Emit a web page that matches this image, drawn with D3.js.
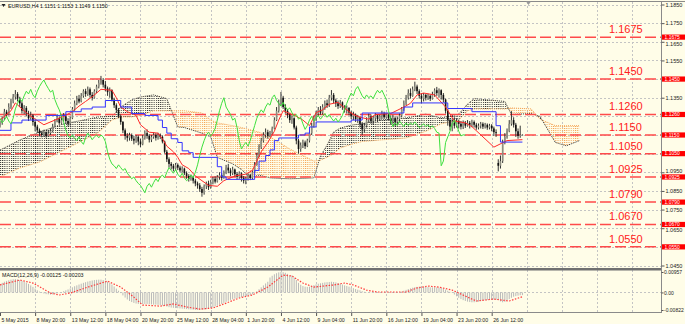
<!DOCTYPE html>
<html>
<head>
<meta charset="utf-8">
<script src="https://cdn.jsdelivr.net/npm/d3@7"></script>
<style>
  body { margin: 0; background: #fffde8; }
  svg { display: block; font-family: "Liberation Sans", Arial, sans-serif; }
</style>
</head>
<body>
<div id="chart"></div>
<script>
// EURUSD H4 candles: [open, high, low, close], one per bar
const ohlc = [
  [1.1200,1.1225,1.1190,1.1215],[1.1215,1.1250,1.1205,1.1240],[1.1240,1.1290,1.1230,1.1275],[1.1275,1.1285,1.1245,1.1260],
  [1.1260,1.1320,1.1255,1.1300],[1.1300,1.1345,1.1290,1.1330],[1.1330,1.1370,1.1320,1.1355],[1.1355,1.1391,1.1340,1.1370],
  [1.1370,1.1380,1.1330,1.1345],[1.1345,1.1355,1.1300,1.1320],[1.1320,1.1330,1.1265,1.1280],[1.1280,1.1310,1.1262,1.1295],
  [1.1295,1.1305,1.1250,1.1265],[1.1265,1.1280,1.1225,1.1240],[1.1240,1.1275,1.1232,1.1255],[1.1255,1.1262,1.1200,1.1220],
  [1.1220,1.1230,1.1170,1.1195],[1.1195,1.1205,1.1160,1.1175],[1.1175,1.1185,1.1145,1.1160],[1.1160,1.1172,1.1138,1.1150],
  [1.1150,1.1178,1.1140,1.1165],[1.1165,1.1170,1.1135,1.1145],[1.1145,1.1175,1.1140,1.1160],[1.1160,1.1185,1.1150,1.1172],
  [1.1172,1.1210,1.1165,1.1195],[1.1195,1.1235,1.1190,1.1225],[1.1225,1.1262,1.1218,1.1240],[1.1240,1.1250,1.1205,1.1215],
  [1.1215,1.1255,1.1210,1.1230],[1.1230,1.1268,1.1222,1.1250],[1.1250,1.1258,1.1210,1.1225],[1.1225,1.1240,1.1195,1.1210],
  [1.1210,1.1250,1.1200,1.1240],[1.1240,1.1300,1.1235,1.1290],[1.1290,1.1335,1.1280,1.1320],[1.1320,1.1360,1.1310,1.1345],
  [1.1345,1.1365,1.1320,1.1330],[1.1330,1.1375,1.1325,1.1360],[1.1360,1.1395,1.1350,1.1385],[1.1385,1.1398,1.1355,1.1370],
  [1.1370,1.1410,1.1360,1.1395],[1.1395,1.1405,1.1350,1.1365],[1.1365,1.1380,1.1335,1.1350],[1.1350,1.1395,1.1345,1.1385],
  [1.1385,1.1420,1.1375,1.1410],[1.1410,1.1445,1.1400,1.1430],[1.1430,1.1467,1.1420,1.1445],[1.1445,1.1455,1.1405,1.1420],
  [1.1420,1.1440,1.1385,1.1400],[1.1400,1.1410,1.1360,1.1380],[1.1380,1.1405,1.1350,1.1390],[1.1390,1.1395,1.1330,1.1340],
  [1.1340,1.1350,1.1295,1.1310],[1.1310,1.1320,1.1270,1.1285],[1.1285,1.1295,1.1240,1.1250],[1.1250,1.1260,1.1205,1.1220],
  [1.1220,1.1225,1.1160,1.1175],[1.1175,1.1185,1.1125,1.1145],[1.1145,1.1160,1.1115,1.1135],[1.1135,1.1162,1.1120,1.1150],
  [1.1150,1.1158,1.1118,1.1130],[1.1130,1.1145,1.1100,1.1120],[1.1120,1.1150,1.1108,1.1140],[1.1140,1.1148,1.1095,1.1115],
  [1.1115,1.1130,1.1085,1.1100],[1.1100,1.1150,1.1095,1.1135],[1.1135,1.1175,1.1125,1.1160],[1.1160,1.1180,1.1130,1.1145],
  [1.1145,1.1155,1.1110,1.1125],[1.1125,1.1150,1.1112,1.1140],[1.1140,1.1165,1.1130,1.1150],[1.1150,1.1160,1.1120,1.1135],
  [1.1135,1.1162,1.1125,1.1150],[1.1150,1.1158,1.1128,1.1140],[1.1140,1.1148,1.1105,1.1115],[1.1115,1.1120,1.1050,1.1060],
  [1.1060,1.1070,1.1005,1.1020],[1.1020,1.1030,1.0975,1.0995],[1.0995,1.1005,1.0965,1.0985],[1.0985,1.0995,1.0955,1.0970],
  [1.0970,1.1000,1.0960,1.0990],[1.0990,1.0998,1.0962,1.0975],[1.0975,1.0985,1.0950,1.0960],[1.0960,1.0982,1.0948,1.0970],
  [1.0970,1.0975,1.0935,1.0945],[1.0945,1.0955,1.0915,1.0930],[1.0930,1.0940,1.0900,1.0915],[1.0915,1.0938,1.0905,1.0925],
  [1.0925,1.0932,1.0890,1.0905],[1.0905,1.0915,1.0875,1.0890],[1.0890,1.0900,1.0862,1.0880],[1.0880,1.0892,1.0845,1.0860],
  [1.0860,1.0872,1.0819,1.0840],[1.0840,1.0885,1.0830,1.0875],[1.0875,1.0900,1.0860,1.0890],[1.0890,1.0905,1.0855,1.0870],
  [1.0870,1.0910,1.0862,1.0895],[1.0895,1.0925,1.0885,1.0915],[1.0915,1.0928,1.0890,1.0900],[1.0900,1.0935,1.0895,1.0925],
  [1.0925,1.0950,1.0910,1.0935],[1.0935,1.0945,1.0905,1.0920],[1.0920,1.0960,1.0915,1.0950],[1.0950,1.0990,1.0940,1.0975],
  [1.0975,1.0995,1.0945,1.0960],[1.0960,1.0972,1.0930,1.0945],[1.0945,1.0980,1.0935,1.0965],[1.0965,1.0970,1.0925,1.0940],
  [1.0940,1.0950,1.0910,1.0925],[1.0925,1.0955,1.0915,1.0945],[1.0945,1.0950,1.0900,1.0920],[1.0920,1.0930,1.0890,1.0905],
  [1.0905,1.0925,1.0886,1.0915],[1.0915,1.0945,1.0905,1.0935],[1.0935,1.0942,1.0908,1.0920],[1.0920,1.0960,1.0912,1.0950],
  [1.0950,1.1005,1.0945,1.0990],[1.0990,1.1055,1.0985,1.1040],[1.1040,1.1100,1.1030,1.1085],[1.1085,1.1135,1.1075,1.1120],
  [1.1120,1.1165,1.1110,1.1150],[1.1150,1.1185,1.1135,1.1165],[1.1165,1.1178,1.1130,1.1145],[1.1145,1.1172,1.1138,1.1160],
  [1.1160,1.1195,1.1150,1.1185],[1.1185,1.1245,1.1180,1.1230],[1.1230,1.1300,1.1225,1.1280],[1.1280,1.1340,1.1270,1.1320],
  [1.1320,1.1381,1.1310,1.1350],[1.1350,1.1360,1.1290,1.1300],[1.1300,1.1315,1.1265,1.1280],[1.1280,1.1290,1.1240,1.1260],
  [1.1260,1.1270,1.1215,1.1230],[1.1230,1.1255,1.1210,1.1240],[1.1240,1.1245,1.1180,1.1190],[1.1190,1.1200,1.1100,1.1120],
  [1.1120,1.1130,1.1050,1.1075],[1.1075,1.1110,1.1060,1.1095],[1.1095,1.1125,1.1080,1.1110],[1.1110,1.1120,1.1075,1.1090],
  [1.1090,1.1130,1.1085,1.1120],[1.1120,1.1170,1.1110,1.1160],[1.1160,1.1215,1.1150,1.1200],[1.1200,1.1255,1.1190,1.1240],
  [1.1240,1.1280,1.1225,1.1265],[1.1265,1.1300,1.1250,1.1285],[1.1285,1.1305,1.1258,1.1270],[1.1270,1.1315,1.1260,1.1300],
  [1.1300,1.1335,1.1285,1.1320],[1.1320,1.1340,1.1295,1.1310],[1.1310,1.1365,1.1300,1.1350],[1.1350,1.1391,1.1335,1.1365],
  [1.1365,1.1375,1.1320,1.1335],[1.1335,1.1345,1.1300,1.1320],[1.1320,1.1335,1.1290,1.1305],[1.1305,1.1338,1.1295,1.1325],
  [1.1325,1.1330,1.1285,1.1300],[1.1300,1.1310,1.1270,1.1285],[1.1285,1.1308,1.1265,1.1295],[1.1295,1.1300,1.1255,1.1270],
  [1.1270,1.1280,1.1235,1.1250],[1.1250,1.1275,1.1230,1.1260],[1.1260,1.1265,1.1220,1.1235],[1.1235,1.1258,1.1215,1.1245],
  [1.1245,1.1250,1.1190,1.1210],[1.1210,1.1220,1.1150,1.1180],[1.1180,1.1215,1.1165,1.1200],[1.1200,1.1245,1.1190,1.1230],
  [1.1230,1.1265,1.1215,1.1250],[1.1250,1.1260,1.1210,1.1225],[1.1225,1.1252,1.1205,1.1240],[1.1240,1.1268,1.1225,1.1255],
  [1.1255,1.1262,1.1220,1.1235],[1.1235,1.1260,1.1225,1.1250],[1.1250,1.1280,1.1235,1.1265],[1.1265,1.1275,1.1235,1.1245],
  [1.1245,1.1270,1.1238,1.1260],[1.1260,1.1265,1.1228,1.1240],[1.1240,1.1255,1.1205,1.1225],[1.1225,1.1258,1.1210,1.1240],
  [1.1240,1.1250,1.1195,1.1220],[1.1220,1.1248,1.1205,1.1235],[1.1235,1.1265,1.1220,1.1255],[1.1255,1.1300,1.1245,1.1290],
  [1.1290,1.1335,1.1280,1.1320],[1.1320,1.1365,1.1310,1.1350],[1.1350,1.1395,1.1340,1.1375],[1.1375,1.1400,1.1345,1.1360],
  [1.1360,1.1410,1.1355,1.1395],[1.1395,1.1436,1.1385,1.1410],[1.1410,1.1420,1.1370,1.1385],[1.1385,1.1395,1.1345,1.1360],
  [1.1360,1.1375,1.1320,1.1345],[1.1345,1.1375,1.1330,1.1365],[1.1365,1.1370,1.1335,1.1350],[1.1350,1.1372,1.1338,1.1360],
  [1.1360,1.1368,1.1332,1.1345],[1.1345,1.1382,1.1340,1.1370],[1.1370,1.1400,1.1355,1.1390],[1.1390,1.1408,1.1360,1.1375],
  [1.1375,1.1400,1.1350,1.1390],[1.1390,1.1395,1.1340,1.1365],[1.1365,1.1375,1.1325,1.1340],[1.1340,1.1345,1.1265,1.1280],
  [1.1280,1.1290,1.1200,1.1230],[1.1230,1.1240,1.1175,1.1195],[1.1195,1.1235,1.1170,1.1215],[1.1215,1.1245,1.1185,1.1200],
  [1.1200,1.1240,1.1190,1.1225],[1.1225,1.1232,1.1185,1.1210],[1.1210,1.1225,1.1180,1.1195],[1.1195,1.1228,1.1182,1.1215],
  [1.1215,1.1225,1.1188,1.1200],[1.1200,1.1230,1.1195,1.1215],[1.1215,1.1225,1.1185,1.1205],[1.1205,1.1232,1.1192,1.1220],
  [1.1220,1.1228,1.1190,1.1205],[1.1205,1.1215,1.1178,1.1190],[1.1190,1.1212,1.1180,1.1200],[1.1200,1.1220,1.1185,1.1210],
  [1.1210,1.1218,1.1182,1.1195],[1.1195,1.1215,1.1185,1.1205],[1.1205,1.1212,1.1178,1.1190],[1.1190,1.1210,1.1180,1.1200],
  [1.1200,1.1208,1.1170,1.1185],[1.1185,1.1195,1.1145,1.1165],[1.1165,1.1180,1.1140,1.1160],[1.1000,1.1020,1.0955,1.0985],
  [1.0985,1.1040,1.0970,1.1010],[1.1010,1.1125,1.1000,1.1110],[1.1110,1.1160,1.1100,1.1140],[1.1140,1.1185,1.1130,1.1170],
  [1.1170,1.1230,1.1165,1.1210],[1.1210,1.1278,1.1200,1.1230],[1.1230,1.1245,1.1190,1.1205],[1.1205,1.1215,1.1140,1.1170],
  [1.1170,1.1185,1.1130,1.1145],[1.1145,1.1200,1.1135,1.1151],[1.1151,1.1153,1.1149,1.1150]
];

// Ichimoku lines: [bar, price]
const tenkanPts = [
  [0,1.1230],[5,1.1280],[7,1.1322],[10,1.1290],[13,1.1260],[16,1.1235],[20,1.1205],[25,1.1230],[29,1.1250],
  [33,1.1275],[36,1.1305],[39,1.1330],[42,1.1355],[46,1.1395],[51,1.1390],[53,1.1350],[55,1.1300],[58,1.1275],
  [62,1.1255],[64,1.1205],[68,1.1165],[72,1.1160],[74,1.1130],[76,1.1090],[79,1.1060],[81,1.1030],[83,1.0990],
  [86,1.0970],[89,1.0930],[92,1.0905],[95,1.0880],[99,1.0875],[102,1.0905],[107,1.0930],[112,1.0940],[115,1.0960],
  [117,1.1010],[119,1.1060],[122,1.1110],[125,1.1170],[127,1.1230],[129,1.1280],[132,1.1265],[135,1.1250],
  [138,1.1230],[141,1.1200],[144,1.1270],[147,1.1285],[150,1.1315],[154,1.1325],[158,1.1285],[161,1.1260],
  [164,1.1245],[168,1.1235],[171,1.1260],[178,1.1265],[184,1.1300],[187,1.1320],[190,1.1365],[193,1.1375],
  [198,1.1365],[203,1.1300],[207,1.1225],[212,1.1215],[215,1.1195],[225,1.1085],[231,1.1120],[238,1.1125]
];
const kijunPts = [
  [0,1.1175],[5,1.1215],[10,1.1230],[21,1.1255],[30,1.1275],[37,1.1290],[42,1.1300],[48,1.1335],[55,1.1300],
  [60,1.1265],[66,1.1255],[72,1.1230],[74,1.1190],[76,1.1160],[78,1.1130],[81,1.1110],[83,1.1065],[86,1.1055],
  [88,1.1030],[99,1.0980],[101,1.0925],[103,1.0912],[116,1.0960],[118,1.1010],[121,1.1040],[123,1.1070],
  [125,1.1120],[127,1.1134],[136,1.1150],[139,1.1160],[141,1.1193],[144,1.1220],[160,1.1230],[165,1.1268],
  [184,1.1300],[188,1.1322],[204,1.1292],[215,1.1275],[226,1.1200],[228,1.1112],[238,1.1112]
];

// Kumo: bars and both senkou spans (A drawn dark, B drawn orange)
const cloudBars = [0,9,18,29,38,45,51,55,60,64,70,76,81,84,92,96,99,106,110,114,118,123,132,143,146,149,152,155,160,165,173,185,194,201,209,213,216,230,233,242,246,253,258,264];
const spanA = [1.1069,1.1123,1.1166,1.1210,1.1230,1.1247,1.1250,1.1300,1.1338,1.1354,1.1365,1.1345,1.1193,1.1190,1.1160,1.1140,1.1030,1.0995,1.0965,1.0920,1.0935,1.0920,1.0915,1.0920,1.1037,1.1096,1.1166,1.1187,1.1203,1.1210,1.1230,1.1241,1.1262,1.1241,1.1262,1.1316,1.1345,1.1330,1.1260,1.1265,1.1250,1.1110,1.1092,1.1120];
const spanB = [1.0925,1.0973,1.1005,1.1069,1.1123,1.1165,1.1230,1.1247,1.1247,1.1255,1.1280,1.1280,1.1280,1.1280,1.1268,1.1230,1.1215,1.1200,1.1190,1.1178,1.1165,1.1140,1.1075,1.1010,1.1015,1.1030,1.1050,1.1080,1.1100,1.1115,1.1123,1.1134,1.1170,1.1210,1.1230,1.1280,1.1290,1.1290,1.1295,1.1290,1.1235,1.1200,1.1200,1.1200];

// MACD(12,26,9) main histogram, one value per bar
const macdMain = [
  0.0040,0.0045,0.0050,0.0054,0.0057,0.0060,0.0062,0.0063,0.0061,0.0058,0.0054,0.0050,0.0046,
  0.0040,0.0033,0.0026,0.0018,0.0010,0.0004,-0.0002,-0.0005,
  -0.0008,-0.0009,-0.0010,-0.0009,-0.0007,-0.0004,-0.0001,0.0002,0.0006,0.0010,
  0.0014,0.0019,0.0024,0.0029,0.0033,0.0037,0.0041,0.0045,0.0048,0.0051,0.0054,0.0056,0.0058,0.0059,0.0060,
  0.0060,0.0058,0.0055,0.0051,0.0045,0.0037,0.0028,0.0018,0.0008,-0.0003,
  -0.0014,-0.0024,-0.0033,-0.0040,-0.0045,-0.0049,-0.0052,-0.0054,-0.0055,-0.0055,-0.0054,-0.0054,-0.0055,-0.0056,-0.0057,
  -0.0057,-0.0058,-0.0059,-0.0061,-0.0063,-0.0066,-0.0069,-0.0071,-0.0072,-0.0073,-0.0074,-0.0075,-0.0076,-0.0077,-0.0078,
  -0.0079,-0.0080,-0.0081,-0.0082,-0.0082,-0.0082,-0.0081,-0.0080,-0.0078,-0.0076,-0.0073,-0.0070,-0.0066,-0.0062,-0.0057,
  -0.0054,-0.0049,-0.0044,-0.0039,-0.0035,-0.0032,-0.0029,-0.0026,-0.0024,-0.0022,-0.0020,-0.0018,-0.0016,-0.0013,-0.0009,
  -0.0002,0.0006,0.0015,0.0024,0.0033,0.0042,0.0050,0.0070,0.0078,0.0085,0.0090,0.0094,0.0096,0.0095,0.0092,
  0.0087,0.0080,0.0080,0.0070,0.0058,0.0045,0.0036,0.0030,0.0027,0.0026,
  0.0027,0.0030,0.0034,0.0038,0.0041,0.0043,0.0045,0.0047,0.0048,0.0049,0.0050,0.0049,0.0047,0.0044,0.0041,0.0037,0.0033,
  0.0030,0.0027,0.0023,0.0020,0.0016,0.0013,0.0010,0.0006,0.0003,0.0001,0.0000,-0.0001,-0.0001,
  -0.0001,0.0000,0.0001,0.0001,0.0002,0.0001,0.0000,-0.0001,-0.0002,-0.0002,-0.0001,0.0001,0.0004,0.0008,
  0.0012,0.0016,0.0019,0.0022,0.0025,0.0026,0.0027,0.0027,0.0027,0.0026,0.0025,0.0024,0.0024,0.0024,0.0024,0.0023,0.0021,0.0018,0.0013,0.0008,0.0003,-0.0002,
  -0.0010,-0.0018,-0.0025,-0.0031,-0.0036,-0.0040,-0.0043,-0.0045,-0.0046,-0.0046,-0.0045,-0.0043,-0.0041,-0.0039,-0.0037,-0.0035,
  -0.0034,-0.0033,-0.0033,-0.0034,-0.0035,-0.0042,-0.0046,-0.0044,-0.0038,-0.0031,-0.0025,-0.0020,-0.0017,-0.0015,-0.0013,-0.00125
];
// signal line read as [bar, value]
const macdSignal = [
  [0,0.0035],[9,0.0058],[15,0.0044],[23,-0.0003],[27,-0.0012],[32,-0.0003],[40,0.0025],[49,0.0053],[55,0.0025],
  [61,-0.0022],[65,-0.0059],[73,-0.0064],[79,-0.0054],[85,-0.0068],[91,-0.0078],[97,-0.0073],[103,-0.0050],
  [109,-0.0026],[115,-0.0012],[122,0.0025],[129,0.0081],[133,0.0077],[138,0.0044],[143,0.0025],[152,0.0035],
  [157,0.0044],[161,0.0035],[167,0.0011],[172,0.0002],[185,0.0002],[190,0.0021],[195,0.0030],[200,0.0025],
  [206,0.0011],[213,-0.0022],[217,-0.0040],[225,-0.0031],[232,-0.0040],[238,-0.0020]
];

const levels = [1.1675, 1.1450, 1.1260, 1.1150, 1.1050, 1.0925, 1.0790, 1.0670, 1.0550];
// grid levels; the axis only labels those not covered by a level tag
const gridPrices = [1.1850,1.1750,1.1650,1.1550,1.1450,1.1350,1.1250,1.1150,1.1050,1.0950,1.0850,1.0750,1.0650,1.0550,1.0450];
const priceTicks = [1.1850,1.1750,1.1650,1.1550,1.1350,1.0950,1.0850,1.0750,1.0650,1.0450];
const timeLabels = ['5 May 2015','8 May 20:00','13 May 12:00','18 May 04:00','20 May 20:00','25 May 12:00','28 May 04:00',
  '1 Jun 20:00','4 Jun 12:00','9 Jun 04:00','11 Jun 20:00','16 Jun 12:00','19 Jun 04:00','23 Jun 20:00','26 Jun 12:00'];
const macdTicks = [0.00957, 0, -0.00822];

const W = 685, H = 324;
const barW = 2.195;
const plotR = 661;
const mainTop = 2, mainBot = 268;
const macdTop = 270.5, macdBot = 312;
const bg = '#fffde8';

const x = d3.scaleLinear().domain([0, 16]).range([0, 16 * barW]);
const y = d3.scaleLinear().domain([1.0450, 1.1850]).range([265.5, 4.5]);
const ym = d3.scaleLinear().domain([-0.00822, 0.00957]).range([310, 272]);

const svg = d3.select('#chart').append('svg').attr('width', W).attr('height', H);
svg.append('rect').attr('width', W).attr('height', H).attr('fill', bg);

const defs = svg.append('defs');
defs.append('clipPath').attr('id', 'clipMain').append('rect')
  .attr('x', 0).attr('y', mainTop).attr('width', plotR).attr('height', mainBot - mainTop);
defs.append('clipPath').attr('id', 'clipMacd').append('rect')
  .attr('x', 0).attr('y', macdTop).attr('width', plotR).attr('height', macdBot - macdTop);

function dotPattern(id, color) {
  const p = defs.append('pattern').attr('id', id).attr('patternUnits', 'userSpaceOnUse')
    .attr('width', barW).attr('height', 2);
  p.append('rect').attr('width', 1).attr('height', 1).attr('fill', color);
}
dotPattern('dotDark', '#2a2a2a');
dotPattern('dotOrange', '#f4a456');

// grid
const grid = svg.append('g').attr('stroke', '#c4c4c4').attr('stroke-dasharray', '2,2').attr('stroke-width', 1);
grid.selectAll('line.v')
  .data(d3.range(1, 19).map(k => k * 16))
  .join('line')
  .attr('x1', d => Math.round(x(d)) + 0.5).attr('x2', d => Math.round(x(d)) + 0.5)
  .attr('y1', mainTop).attr('y2', macdBot);
grid.selectAll('line.h')
  .data(gridPrices)
  .join('line')
  .attr('x1', 0).attr('x2', plotR)
  .attr('y1', d => Math.round(y(d)) + 0.5).attr('y2', d => Math.round(y(d)) + 0.5);
grid.append('line').attr('x1', 0).attr('x2', plotR)
  .attr('y1', Math.round(ym(0)) + 0.5).attr('y2', Math.round(ym(0)) + 0.5);

const main = svg.append('g').attr('clip-path', 'url(#clipMain)');

// kumo
const cloud = cloudBars.map((b, i) => ({ bar: b, a: spanA[i], sb: spanB[i] }));
const areaAB = d3.area().x(d => x(d.bar)).y0(d => y(d.a)).y1(d => y(d.sb));
defs.append('clipPath').attr('id', 'belowA').append('path')
  .attr('d', d3.area().x(d => x(d.bar)).y0(d => y(d.a)).y1(mainBot)(cloud));
defs.append('clipPath').attr('id', 'aboveA').append('path')
  .attr('d', d3.area().x(d => x(d.bar)).y0(mainTop).y1(d => y(d.a))(cloud));
main.append('g').attr('clip-path', 'url(#belowA)')
  .append('path').attr('d', areaAB(cloud)).attr('fill', 'url(#dotDark)');
main.append('g').attr('clip-path', 'url(#aboveA)')
  .append('path').attr('d', areaAB(cloud)).attr('fill', 'url(#dotOrange)');
main.append('path')
  .attr('d', d3.line().x(d => x(d.bar)).y(d => y(d.sb))(cloud))
  .attr('fill', 'none').attr('stroke', '#f4a456').attr('stroke-dasharray', '1,1');
main.append('path')
  .attr('d', d3.line().x(d => x(d.bar)).y(d => y(d.a))(cloud))
  .attr('fill', 'none').attr('stroke', '#333').attr('stroke-dasharray', '1,1');

// support / resistance levels
main.selectAll('line.lvl')
  .data(levels)
  .join('line')
  .attr('x1', 0).attr('x2', plotR)
  .attr('y1', d => y(d)).attr('y2', d => y(d))
  .attr('stroke', '#ff4a4a').attr('stroke-width', 1.5).attr('stroke-dasharray', '11,4');

// candles
const candles = main.append('g');
candles.selectAll('line')
  .data(ohlc)
  .join('line')
  .attr('x1', (d, i) => x(i)).attr('x2', (d, i) => x(i))
  .attr('y1', d => y(d[1])).attr('y2', d => y(d[2]))
  .attr('stroke', '#333').attr('stroke-width', 1);
candles.selectAll('rect')
  .data(ohlc)
  .join('rect')
  .attr('x', (d, i) => x(i) - 0.8).attr('width', 1.6)
  .attr('y', d => y(Math.max(d[0], d[3])))
  .attr('height', d => Math.max(0.6, y(Math.min(d[0], d[3])) - y(Math.max(d[0], d[3]))))
  .attr('fill', d => d[3] >= d[0] ? '#8e8e80' : '#111');

// ichimoku lines
main.append('path')
  .attr('d', d3.line().x(d => x(d[0])).y(d => y(d[1]))(tenkanPts))
  .attr('fill', 'none').attr('stroke', '#ff2a2a').attr('stroke-width', 1);
main.append('path')
  .attr('d', d3.line().curve(d3.curveStepAfter).x(d => x(d[0])).y(d => y(d[1]))(kijunPts))
  .attr('fill', 'none').attr('stroke', '#3333ff').attr('stroke-width', 1);
const chikou = ohlc.map((d, i) => [i - 26, d[3]]).filter(d => d[0] >= 0);
main.append('path')
  .attr('d', d3.line().x(d => x(d[0])).y(d => y(d[1]))(chikou))
  .attr('fill', 'none').attr('stroke', '#3ee03e').attr('stroke-width', 1);

// big level labels
svg.selectAll('text.lvl')
  .data(levels)
  .join('text')
  .attr('x', 609).attr('y', d => y(d) - 4)
  .attr('fill', '#ff2020').style('font-size', '11px')
  .text(d => d.toFixed(4));

// macd panel
const macd = svg.append('g').attr('clip-path', 'url(#clipMacd)');
macd.selectAll('line')
  .data(macdMain)
  .join('line')
  .attr('x1', (d, i) => x(i)).attr('x2', (d, i) => x(i))
  .attr('y1', ym(0)).attr('y2', d => ym(d))
  .attr('stroke', '#b9b9b9').attr('stroke-width', 1);
macd.append('path')
  .attr('d', d3.line().x(d => x(d[0])).y(d => ym(d[1]))(macdSignal))
  .attr('fill', 'none').attr('stroke', '#ff3a3a').attr('stroke-width', 1.2).attr('stroke-dasharray', '1.5,1.5');

// frame
svg.append('line').attr('x1', 0).attr('x2', W).attr('y1', 1.5).attr('y2', 1.5).attr('stroke', '#8a8a8a');
svg.append('rect').attr('x', 0).attr('y', mainBot).attr('width', plotR).attr('height', 2.5).attr('fill', '#707070');
svg.append('line').attr('x1', 0).attr('x2', plotR).attr('y1', macdBot + 0.5).attr('y2', macdBot + 0.5).attr('stroke', '#8a8a8a');
svg.append('line').attr('x1', plotR + 0.5).attr('x2', plotR + 0.5).attr('y1', 1.5).attr('y2', macdBot + 1).attr('stroke', '#8a8a8a');

// price axis
const yAxis = svg.append('g').attr('transform', `translate(${plotR + 0.5},0)`)
  .call(d3.axisRight(y).tickValues(priceTicks).tickSize(3).tickPadding(1).tickFormat(d3.format('.4f')));
yAxis.select('.domain').remove();
yAxis.selectAll('text').style('font-size', '5.5px').attr('fill', '#222');
yAxis.selectAll('line').attr('stroke', '#555');
// labels that sit right next to a level tag give it a little room
yAxis.selectAll('.tick text')
  .attr('dy', d => {
    const near = levels.find(l => Math.abs(y(l) - y(d)) < 7);
    if (!near) return '0.32em';
    return (y(d) < y(near) ? -1.8 : 1.8) + 1.76 + 'px';
  });

const tags = svg.selectAll('g.tag').data(levels).join('g')
  .attr('transform', d => `translate(${plotR + 1},${y(d)})`);
tags.append('rect').attr('x', 0).attr('y', -2.6).attr('width', 23).attr('height', 5.2).attr('fill', '#ff0000');
tags.append('text').attr('x', 2.5).attr('y', 1.8).attr('fill', '#fff').style('font-size', '5px').text(d => d.toFixed(4));

// macd axis
const mAxis = svg.append('g').attr('transform', `translate(${plotR + 0.5},0)`)
  .call(d3.axisRight(ym).tickValues(macdTicks).tickSize(2).tickPadding(0.5)
    .tickFormat(d => d === 0 ? '0.00' : d.toFixed(5)));
mAxis.select('.domain').remove();
mAxis.selectAll('text').style('font-size', '5px').attr('fill', '#222');
mAxis.selectAll('line').attr('stroke', '#555');

// time axis
const xAxis = svg.append('g').attr('transform', `translate(0,${macdBot + 1})`)
  .call(d3.axisBottom(x).tickValues(timeLabels.map((t, k) => k * 16)).tickSize(3).tickPadding(2)
    .tickFormat((d, i) => timeLabels[i]));
xAxis.select('.domain').remove();
xAxis.selectAll('text').style('font-size', '5.2px').attr('text-anchor', 'start').attr('dx', 1).attr('fill', '#222');
xAxis.selectAll('line').attr('stroke', '#555');

// titles
svg.append('path').attr('d', 'M1.5,4 L5.5,4 L3.5,7 Z').attr('fill', '#222');
svg.append('text').attr('x', 8).attr('y', 8).style('font-size', '5.3px').attr('fill', '#111')
  .text('EURUSD,H4  1.1151 1.1153 1.1149 1.1150');
svg.append('text').attr('x', 2).attr('y', 276.5).style('font-size', '5.3px').attr('fill', '#111')
  .text('MACD(12,26,9) -0.00125 -0.00203');
// chart shift marker
svg.append('path').attr('d', 'M526,1.5 L531,1.5 L528.5,5 Z').attr('fill', '#9a9a9a');
</script>
</body>
</html>
